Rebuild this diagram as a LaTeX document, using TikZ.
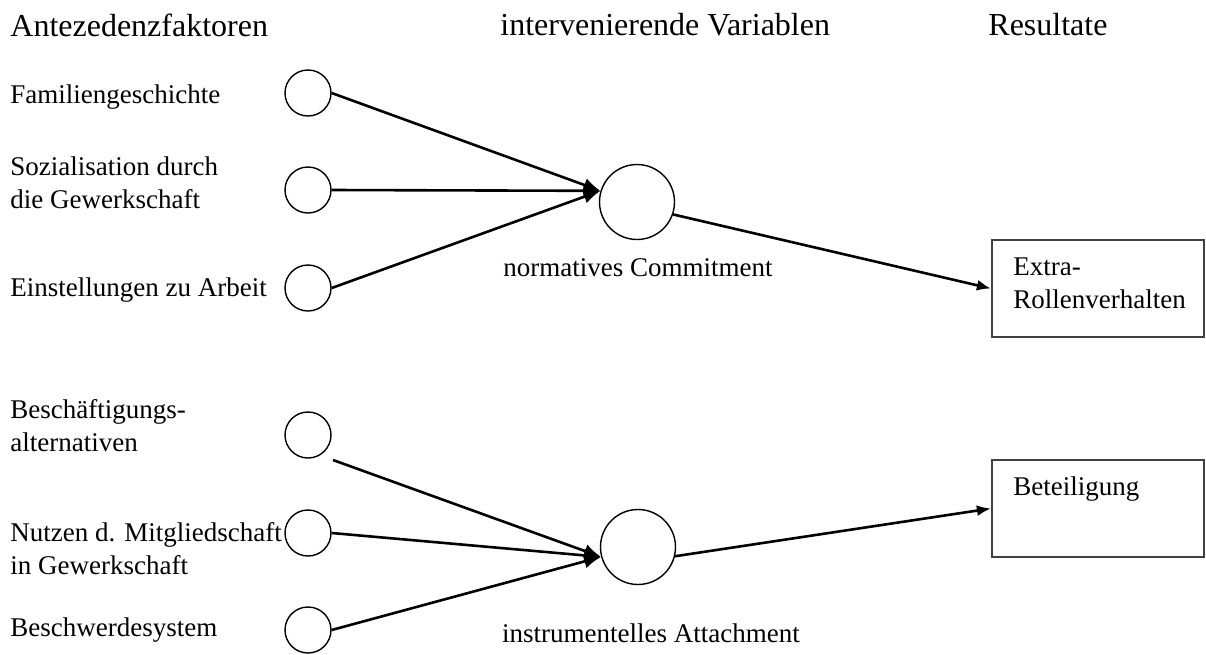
\documentclass[tikz,border=0pt]{standalone}
\usepackage{fontspec}
\setmainfont{Liberation Serif}
\usetikzlibrary{positioning,arrows.meta}

\begin{document}
\begin{tikzpicture}[x=0.5pt,y=-0.5pt,
    faktor/.style={circle,draw,minimum size=23pt,inner sep=0pt,line width=0.7pt},
    zwischen/.style={circle,draw,minimum size=37.5pt,inner sep=0pt,line width=0.7pt},
    resultat/.style={rectangle,draw=black!75,line width=1.1pt,minimum width=106pt,minimum height=48.5pt,inner sep=0pt},
    kopf/.style={anchor=west,inner sep=0pt,font=\fontsize{16}{19}\selectfont},
    txt/.style={anchor=west,inner sep=0pt,align=left,font=\fontsize{13.5}{16.5}\selectfont},
    pfeil/.style={line width=1.3pt,-{Latex[length=8.5pt,width=7pt]}},
    ausgang/.style={line width=1.3pt,-{Latex[length=7pt,width=5.5pt]}}]
  \useasboundingbox (0,0) rectangle (1206,654);

  \node[kopf] (h1) at (10,25) {Antezedenzfaktoren};
  \node[kopf] (h2) at (500,25) {intervenierende Variablen};
  \node[kopf] (h3) at (988,25) {Resultate};

  \node[faktor] (f1) at (308,93) {};
  \node[faktor] (f2) at (308,190) {};
  \node[faktor] (f3) at (308,288) {};
  \node[faktor] (f4) at (308,435) {};
  \node[faktor] (f5) at (308,533) {};
  \node[faktor] (f6) at (308,630) {};

  \node[txt] (t1) at (10,97) {Familiengeschichte};
  \node[txt] (t2) at (10,183) {Sozialisation durch\\die Gewerkschaft};
  \node[txt] (t3) at (10,290) {Einstellungen zu Arbeit};
  \node[txt] (t4) at (10,426) {Beschäftigungs-\\alternativen};
  \node[txt] (t5) at (10,549) {Nutzen d. Mitgliedschaft\\in Gewerkschaft};
  \node[txt] (t6) at (10,630) {Beschwerdesystem};

  \node[zwischen] (nc) at (637,202) {};
  \node[zwischen] (ia) at (638,547) {};
  \node[txt,anchor=center] (lnc) at (638,268) {normatives Commitment};
  \node[txt,anchor=center] (lia) at (651,633) {instrumentelles Attachment};

  \node[resultat] (er) at (1098,288.5) {};
  \node[resultat] (bt) at (1098,508.5) {};
  \node[txt] (ter) at (1013,283) {Extra-\\Rollenverhalten};
  \node[txt] (tbt) at (1013,489) {Beteiligung};

  \coordinate (s4) at (333,460);

  \draw[pfeil] (f1.east) -- (nc.163);
  \draw[pfeil] (f2.east) -- (nc.163);
  \draw[pfeil] (f3.east) -- (nc.163);
  \draw[pfeil] (s4) -- (ia.195);
  \draw[pfeil] (f5.east) -- (ia.195);
  \draw[pfeil] (f6.east) -- (ia.195);

  \draw[ausgang] (nc.-19) -- (er.west);
  \draw[ausgang] (ia.-14) -- (bt.west);
\end{tikzpicture}
\end{document}
